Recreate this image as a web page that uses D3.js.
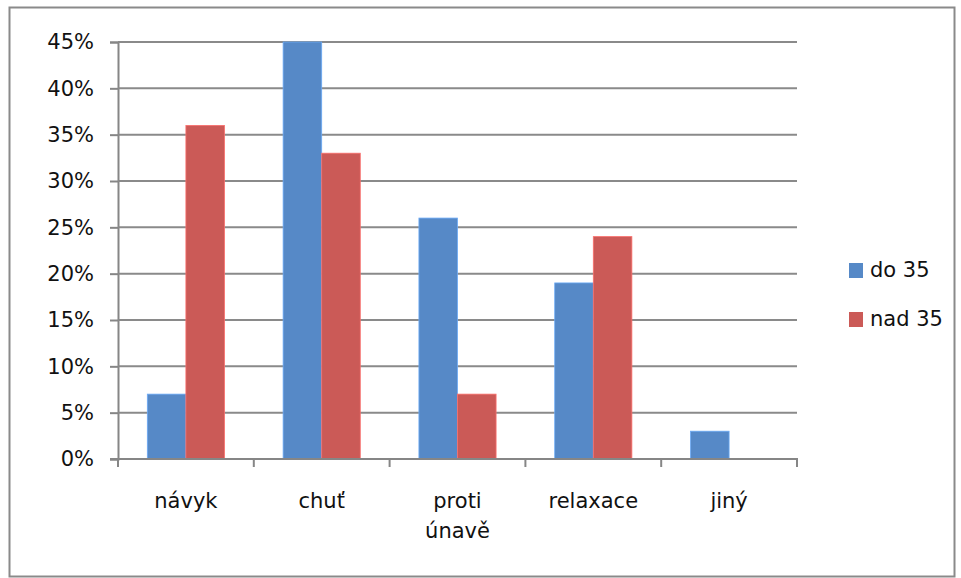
<!DOCTYPE html>
<html>
<head>
<meta charset="utf-8">
<script src="https://cdn.jsdelivr.net/npm/d3@7"></script>
<style>
  html, body { margin: 0; padding: 0; background: #fff; }
  svg { display: block; font-family: "DejaVu Sans", sans-serif; }
</style>
</head>
<body>
<svg id="chart" width="961" height="578"></svg>
<script>
// Categories (multi-line labels split on "\n")
const categories = ["návyk", "chuť", "proti\núnavě", "relaxace", "jiný"];
const seriesNames = ["do 35", "nad 35"];
const do35 = [7, 45, 26, 19, 3];
const nad35 = [36, 33, 7, 24, 0];
const yTicks = [0, 5, 10, 15, 20, 25, 30, 35, 40, 45];
const colors = ["#5689C7", "#CB5A57"];

const svg = d3.select("#chart");
const plot = { left: 118, right: 797, top: 42, bottom: 459 };
const fontSize = 21;

// outer frame
svg.append("rect")
  .attr("x", 9.5).attr("y", 7.5)
  .attr("width", 945).attr("height", 569)
  .attr("fill", "none").attr("stroke", "#8a8a8a").attr("stroke-width", 2);

const x = d3.scaleBand().domain(categories).range([plot.left, plot.right]).paddingInner(0).paddingOuter(0);
const inner = d3.scaleBand().domain(seriesNames).range([0, x.bandwidth()]).paddingInner(0).paddingOuter(0.76);
const y = d3.scaleLinear().domain([0, 45]).range([plot.bottom, plot.top]);

// y axis with tick marks
const yAxis = d3.axisLeft(y).tickValues(yTicks).tickSize(8).tickFormat(d => d + "%").tickPadding(16);
const gy = svg.append("g").attr("transform", `translate(${plot.left},0)`).call(yAxis);
gy.select(".domain").attr("stroke", "#868686").attr("stroke-width", 2);
gy.selectAll(".tick line").attr("stroke", "#868686").attr("stroke-width", 2);
gy.selectAll(".tick text").attr("font-size", fontSize).attr("fill", "#111").attr("font-family", "DejaVu Sans");

// horizontal gridlines
svg.append("g").selectAll("line").data(yTicks.filter(d => d > 0)).join("line")
  .attr("x1", plot.left).attr("x2", plot.right)
  .attr("y1", d => y(d)).attr("y2", d => y(d))
  .attr("stroke", "#8a8a8a").attr("stroke-width", 2);

// bars
const data = [do35, nad35];
data.forEach((vals, si) => {
  svg.append("g").selectAll("rect").data(vals).join("rect")
    .attr("x", (d, i) => x(categories[i]) + inner(seriesNames[si]))
    .attr("width", inner.bandwidth())
    .attr("y", d => y(d))
    .attr("height", d => y(0) - y(d))
    .attr("fill", colors[si])
    .attr("stroke", d3.color(colors[si]).brighter(0.6))
    .attr("stroke-width", 0.8);
});

// x axis line with category boundary ticks
const gx = svg.append("g");
gx.append("line").attr("x1", plot.left - 8).attr("x2", plot.right + 1)
  .attr("y1", plot.bottom).attr("y2", plot.bottom)
  .attr("stroke", "#868686").attr("stroke-width", 2);
const bounds = categories.map(c => x(c)).concat([plot.right]);
gx.selectAll("line.t").data(bounds).join("line").attr("class", "t")
  .attr("x1", d => d).attr("x2", d => d)
  .attr("y1", plot.bottom).attr("y2", plot.bottom + 8)
  .attr("stroke", "#868686").attr("stroke-width", 2);

// category labels
categories.forEach(c => {
  const cx = x(c) + x.bandwidth() / 2;
  const t = svg.append("text")
    .attr("x", cx).attr("y", 508)
    .attr("text-anchor", "middle")
    .attr("font-size", fontSize).attr("fill", "#111");
  c.split("\n").forEach((line, i) => {
    t.append("tspan").attr("x", cx).attr("dy", i === 0 ? 0 : 30).text(line);
  });
});

// legend
const legend = svg.append("g").attr("transform", "translate(849,263)");
seriesNames.forEach((name, i) => {
  const g = legend.append("g").attr("transform", `translate(0,${i * 49})`);
  g.append("rect").attr("width", 14).attr("height", 15).attr("fill", colors[i]);
  g.append("text").attr("x", 21).attr("y", 14).attr("font-size", fontSize).attr("fill", "#111").text(name);
});
</script>
</body>
</html>
